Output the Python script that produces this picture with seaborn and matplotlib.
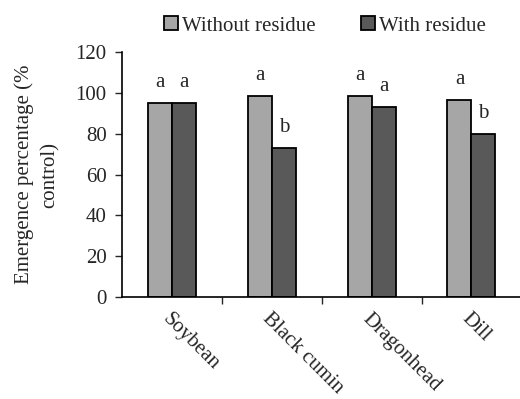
import pandas as pd
import seaborn as sns
import matplotlib.pyplot as plt

# Donnees
crops = ["Soybean", "Black cumin", "Dragonhead", "Dill"]
without_residue = [95, 98.5, 98.5, 96.5]
with_residue = [95, 73, 93.3, 80]
letters_without = ["a", "a", "a", "a"]
letters_with = ["a", "b", "a", "b"]
groups = ["Without residue", "With residue"]

df = pd.DataFrame({
    "crop": crops * 2,
    "value": without_residue + with_residue,
    "group": [groups[0]] * 4 + [groups[1]] * 4,
})

sns.set_style("white")
plt.rcParams["font.family"] = ["Liberation Serif", "DejaVu Serif"]
fs = 15

fig = plt.figure(figsize=(5.2, 3.99), dpi=100)
ax = fig.add_axes([0.2346, 0.2556, 0.768, 0.614])

sns.barplot(data=df, x="crop", y="value", hue="group", order=crops, hue_order=groups,
            palette=["#A6A6A6", "#595959"], width=0.48, gap=0, edgecolor="black",
            linewidth=1.3, ax=ax, legend=True)

# lettres au-dessus des barres
for cont, labs in zip(ax.containers, [letters_without, letters_with]):
    for bar, lab in zip(cont, labs):
        ax.annotate(lab, (bar.get_x() + bar.get_width() / 2, bar.get_height()),
                    xytext=(0, 11.5), textcoords="offset points",
                    ha="center", va="baseline", fontsize=fs)

ax.set_ylim(0, 120)
ax.set_xlim(-0.5, 3.5)
ax.set_yticks(range(0, 121, 20))
ax.tick_params(axis="y", labelsize=fs, length=5, width=1, direction="out", left=True, pad=6)
ax.set_xticks([0.5, 1.5, 2.5, 3.5], minor=True)
ax.tick_params(axis="x", which="minor", length=5, width=1, direction="out", bottom=True)
ax.tick_params(axis="x", which="major", length=0, pad=9)
ax.set_xticks(range(4))
ax.set_xticklabels(crops, rotation=-45, ha="left", va="top", rotation_mode="anchor", fontsize=fs)
ax.set_xlabel("")
ax.set_ylabel("Emergence percentage (%\ncontrol)", fontsize=fs, linespacing=1.45)
ax.yaxis.set_label_coords(-0.155, 0.5)

for s in ["top", "right"]:
    ax.spines[s].set_visible(False)
for s in ["left", "bottom"]:
    ax.spines[s].set_color("black")
    ax.spines[s].set_linewidth(1.2)

leg = ax.legend(loc="center", ncol=2, frameon=False, fontsize=fs, handlelength=0.65,
                handleheight=0.65, handletextpad=0.2, columnspacing=2.2)
leg.set_bbox_to_anchor((0.625, 0.935), transform=fig.transFigure)

plt.savefig("out.png", dpi=100)
